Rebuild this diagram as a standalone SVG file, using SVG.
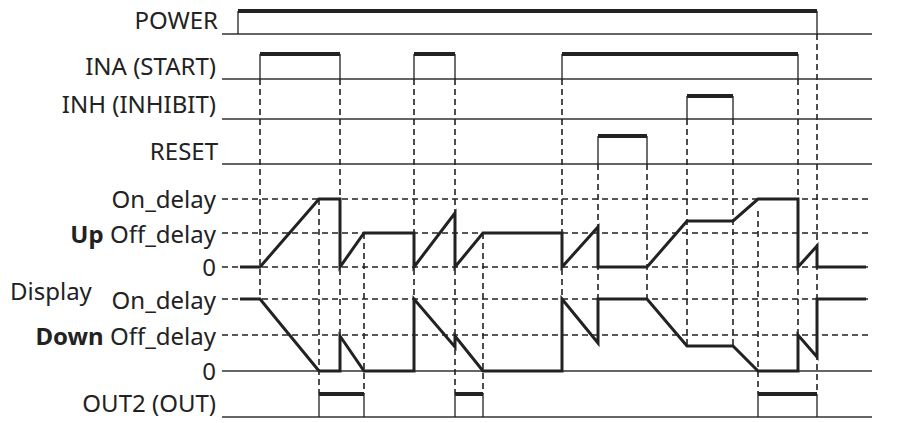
<svg xmlns="http://www.w3.org/2000/svg" width="904" height="423" viewBox="0 0 904 423">
<style>
text{font-family:"Noto Sans","Open Sans",sans-serif;font-size:24px;fill:#222}
.r{text-anchor:end}
.b{font-weight:bold}
.base{stroke:#333;stroke-width:1.3;fill:none}
.hi{stroke:#222;stroke-width:4;fill:none}
.edge{stroke:#222;stroke-width:1.3;fill:none}
.dash{stroke:#222;stroke-width:1.6;stroke-dasharray:6,4;fill:none}
.tr{stroke:#222;stroke-width:3;fill:none;stroke-linejoin:miter}
</style>
<rect width="904" height="423" fill="#fff"/>
<g id="labels">
<text class="r" x="218" y="29">POWER</text>
<text class="r" x="216" y="75">INA (START)</text>
<text class="r" x="216" y="113">INH (INHIBIT)</text>
<text class="r" x="218" y="160">RESET</text>
<text class="r" x="216" y="208">On_delay</text>
<text class="r" x="216" y="243"><tspan class="b">Up</tspan> Off_delay</text>
<text class="r" x="216" y="276">0</text>
<text x="10" y="300">Display</text>
<text class="r" x="216" y="309">On_delay</text>
<text class="r" x="216" y="345"><tspan class="b">Down</tspan> Off_delay</text>
<text class="r" x="216" y="380">0</text>
<text class="r" x="216" y="412">OUT2 (OUT)</text>
</g>
<g id="grid">
<path class="base" d="M222 34H872M222 79H872M222 119H872M222 164H872M222 371H872M222 417H872"/>
<path class="dash" d="M222 199H872M222 233H872M222 267H872M222 299H872M222 335H872"/>
</g>
<g id="signals">
<path class="edge" d="M238 34V11M817 11V34"/><path class="hi" d="M238 11H817"/>
<path class="edge" d="M260 79V54M340 54V79M414 79V54M455 54V79M562 79V54M798 54V79"/>
<path class="hi" d="M260 54H340M414 54H455M562 54H798"/>
<path class="edge" d="M687 119V96M733 96V119"/><path class="hi" d="M687 96H733"/>
<path class="edge" d="M598 164V136M647 136V164"/><path class="hi" d="M598 136H647"/>
<path class="edge" d="M319 417V394M364 394V417M455 417V394M483 394V417M758 417V394M817 394V417"/>
<path class="hi" d="M319 394H364M455 394H483M758 394H817"/>
</g>
<g id="connectors">
<path class="dash" d="M260 79V299M340 79V371M319 199V394M364 233V394M414 79V371M455 79V394M483 233V394M562 79V371M598 164V343M647 164V299M687 119V346M733 119V346M758 211V394M798 79V371M817 34V394"/>
</g>
<g id="traces">
<path class="tr" d="M240 267H260L319 199H340V267L364 233H414V267L455 213V267L483 233H562V267L598 227V267H647L687 221H733L758 199H798V267L817 246V267H866"/>
<path class="tr" d="M240 299H260L319 371H340V336L364 371H414V299L455 347V336L483 371H562V299L598 343V299H647L687 346H733L758 371H798V335L817 357V299H866"/>
</g>
</svg>
